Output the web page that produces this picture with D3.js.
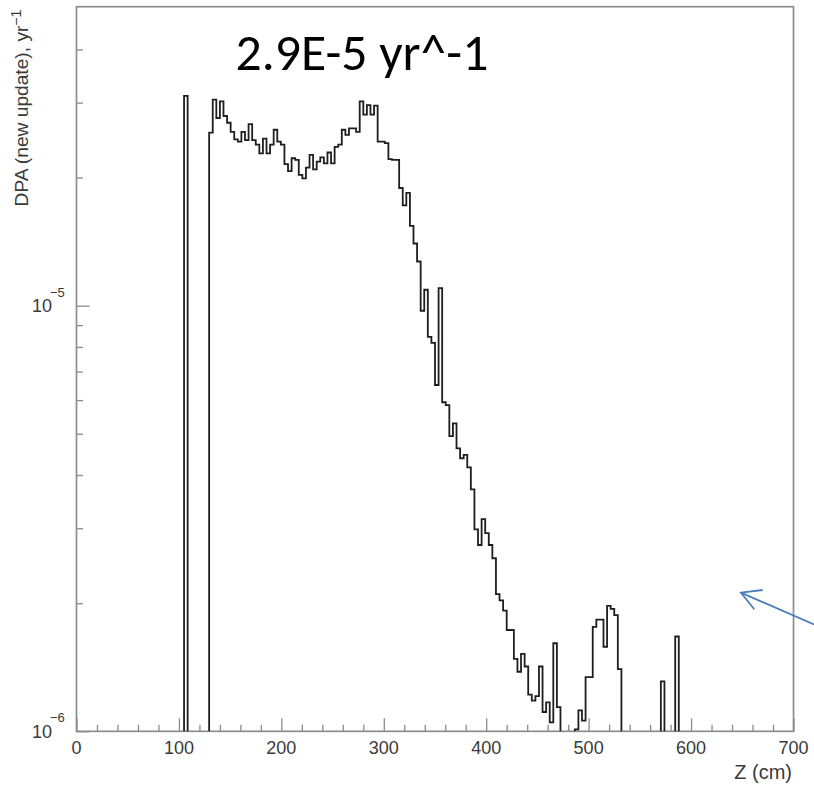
<!DOCTYPE html>
<html>
<head>
<meta charset="utf-8">
<script src="https://cdnjs.cloudflare.com/ajax/libs/d3/7.8.5/d3.min.js"></script>
<style>
body{margin:0;background:#fff;}
svg{display:block;font-family:"Liberation Sans",Arial,sans-serif;}
</style>
</head>
<body>
<svg id="chart" width="814" height="786"></svg>
<script>

// histogram: 3.5 cm bins, first listed bin starts at z = 105 cm
var bin_width=3.5;
var first_bin_z=105;
// DPA per bin, in units of 1e-6 yr^-1 (0 = empty bin)
var dpa_values=[
 31.1, 0,0,0,0,0,0,
 25.5,30.5,27.6,30.2,27.9,26.9,25.6,24.6,24.3,25.6,
 24.5,26.7,24.5,23.9,22.8,24.7,22.8,23.9,25.9,24.3,
 23.9,21.5,20.7,22.2,22.0,20.3,19.9,21.1,22.6,20.9,
 21.8,22.3,21.6,22.9,21.6,23.6,23.9,25.9,25.2,26.1,
 26.1,25.6,30.2,28.1,29.6,28.1,29.5,24.3,24.3,24.1,
 22.1,22.0,22.0,18.9,17.2,18.4,15.4,14.0,12.7,9.73,
 10.9,8.45,8.18,6.51,10.99,5.93,5.84,4.94,5.29,4.62,
 4.38,4.46,4.17,3.70,2.98,2.74,3.15,2.92,2.74,2.55,
 2.10,2.03,1.92,1.73,1.73,1.48,1.38,1.52,1.42,1.22,
 1.18,1.21,1.42,1.11,1.17,1.05,1.61,1.14,
 0,0,0,0,
 1.01,1.12,1.06,1.34,1.34,1.76,1.83,1.83,1.58,1.97,1.94,1.875,1.40,
 0,0,0,0,0,0,0,0,0,0,0,
 1.31,0,0,0,1.67
];

var x_major=[0,100,200,300,400,500,600,700];
var x_minor=[20,40,60,80,120,140,160,180,220,240,260,280,320,340,360,380,
	420,440,460,480,520,540,560,580,620,640,660,680];
var y_major=[1e-6,1e-5];
var y_major_exp=["6","5"];
var y_minor=[2e-6,3e-6,4e-6,5e-6,6e-6,7e-6,8e-6,9e-6,2e-5,3e-5,4e-5];

var y_title="DPA (new update), yr";
var x_title="Z (cm)";
var big_label="2.9E-5 yr^-1";


var svg=d3.select("#chart");

var left_x=76.5, right_x=793.5, top_y=6.7, bottom_y=731.3;
var axis_col="#8c8c8c";
var label_col="#3a3a3a";

var x=d3.scaleLinear().domain([0,700]).range([left_x,right_x]);
var y=d3.scaleLog().domain([1e-6,5.04e-5]).range([bottom_y,top_y]);

// frame
svg.append("rect")
	.attr("x",left_x).attr("y",top_y)
	.attr("width",right_x-left_x).attr("height",bottom_y-top_y)
	.attr("fill","none").attr("stroke",axis_col).attr("stroke-width",1.7);

// x ticks (inside, pointing up)
function tick_group(axis){
	var g=svg.append("g");
	g.call(axis);
	g.select(".domain").remove();
	g.selectAll("line").attr("stroke",axis_col).attr("stroke-width",1.3);
	return g;
}
tick_group(d3.axisBottom(x).tickValues(x_minor).tickSize(-6.5).tickFormat(""))
	.attr("transform","translate(0,"+bottom_y+")");
tick_group(d3.axisBottom(x).tickValues(x_major).tickSize(-13).tickFormat(""))
	.attr("transform","translate(0,"+bottom_y+")");

svg.append("g").selectAll("text").data(x_major).enter().append("text")
	.attr("x",function(d){return x(d);})
	.attr("y",754)
	.attr("text-anchor","middle")
	.attr("font-size",18)
	.attr("fill",label_col)
	.text(function(d){return d;});

// y ticks (inside, pointing right)
tick_group(d3.axisLeft(y).tickValues(y_minor).tickSize(-6.5).tickFormat(""))
	.attr("transform","translate("+left_x+",0)");
tick_group(d3.axisLeft(y).tickValues(y_major).tickSize(-13).tickFormat(""))
	.attr("transform","translate("+left_x+",0)");

svg.append("g").selectAll("text").data(y_major).enter().append("text")
	.attr("x",52)
	.attr("y",function(d){return y(d)+6.5;})
	.attr("text-anchor","end")
	.attr("font-size",18)
	.attr("fill",label_col)
	.text("10");
svg.append("g").selectAll("text").data(y_major).enter().append("text")
	.attr("x",50)
	.attr("y",function(d){return y(d)-9;})
	.attr("font-size",13)
	.attr("fill",label_col)
	.text(function(d,i){return "\u2212"+y_major_exp[i];});

// axis titles
var yt=svg.append("text")
	.attr("transform","translate(28,108) rotate(-90)")
	.attr("text-anchor","middle")
	.attr("font-size",15)
	.attr("fill",label_col);
yt.append("tspan").text(y_title);
yt.append("tspan").attr("dy",-7).attr("font-size",11).text("\u22121");
var yw=yt.node().getComputedTextLength();
yt.attr("font-size",15*197/yw);
yt.select("tspan:last-child").attr("font-size",11*197/yw);

svg.append("text")
	.attr("x",792).attr("y",779)
	.attr("text-anchor","end")
	.attr("font-size",20)
	.attr("fill",label_col)
	.text(x_title);

// histogram outline, one path per run of filled bins
var runs=[], cur=null;
dpa_values.forEach(function(v,i){
	var z0=first_bin_z+i*bin_width;
	if(v>0){
		if(cur==null){cur=[];runs.push(cur);}
		cur.push({z0:z0,z1:z0+bin_width,v:v*1e-6});
	}
	else{cur=null;}
});

var line=d3.line().x(function(p){return p[0];}).y(function(p){return p[1];});
runs.forEach(function(run){
	var pts=[[x(run[0].z0),bottom_y]];
	run.forEach(function(b){
		pts.push([x(b.z0),y(b.v)]);
		pts.push([x(b.z1),y(b.v)]);
	});
	pts.push([x(run[run.length-1].z1),bottom_y]);
	svg.append("path")
		.attr("d",line(pts))
		.attr("fill","none")
		.attr("stroke","#1e1e1e")
		.attr("stroke-width",1.8)
		.attr("stroke-linejoin","miter");
});

// big annotation text
var bt=svg.append("text")
	.attr("x",235.5).attr("y",69.5)
	.attr("font-family","Carlito, Lato, 'Open Sans', sans-serif")
	.attr("font-size",44)
	.attr("fill","#000")
	.text(big_label);
var w=bt.node().getComputedTextLength();
bt.attr("font-size",44*253/w);

// blue arrow from the right edge
var arrow_col="#4a7ebb";
svg.append("line")
	.attr("x1",814).attr("y1",624.5).attr("x2",741).attr("y2",592.7)
	.attr("stroke",arrow_col).attr("stroke-width",1.8);
svg.append("polyline")
	.attr("points","762.7,590 741,592.7 754.3,609.3")
	.attr("fill","none").attr("stroke",arrow_col).attr("stroke-width",1.8);

</script>
</body>
</html>
